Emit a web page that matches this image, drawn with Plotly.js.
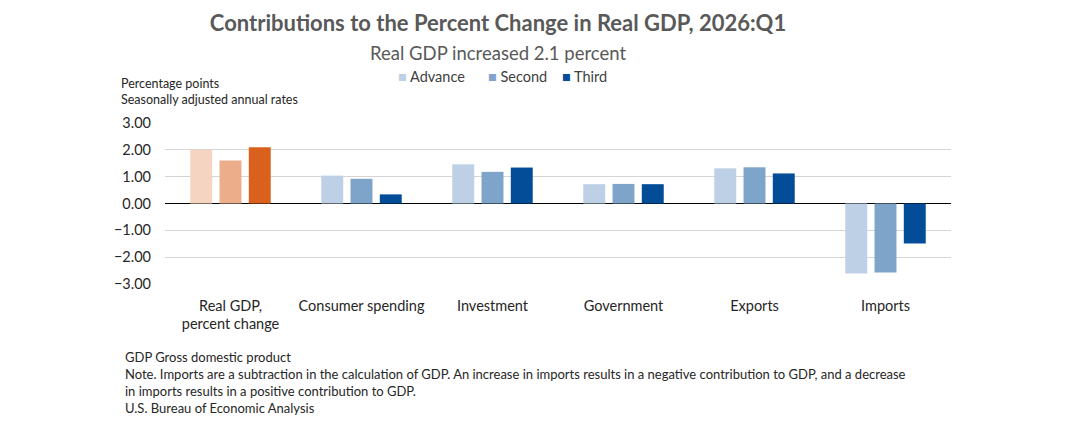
<!DOCTYPE html>
<html>
<head>
<meta charset="utf-8">
<script src="https://cdn.plot.ly/plotly-3.0.1.min.js"></script>
<style>
  html, body { margin: 0; padding: 0; background: #ffffff; }
  #chart { width: 1087px; height: 440px; }
</style>
</head>
<body>
<div id="chart"></div>
<script>
// Contributions to percent change in real GDP, by estimate vintage
const categories = ['Real GDP,<br>percent change', 'Consumer spending', 'Investment', 'Government', 'Exports', 'Imports'];
const seriesNames = ['Advance', 'Second', 'Third'];
const advance = [2.0, 1.04, 1.46, 0.72, 1.31, -2.61];
const second  = [1.6, 0.92, 1.18, 0.73, 1.35, -2.57];
const third   = [2.1, 0.34, 1.34, 0.72, 1.12, -1.49];

// Headline bars in orange shades, components in blue shades
const headlineColors = ['#F5D4C1', '#ECAE8A', '#D9601D'];
const componentColors = ['#BDD0E5', '#7FA4CA', '#034C97'];

const FONT = 'Lato, "Open Sans", "Noto Sans", sans-serif';
const W = 1087, H = 440;
const plotLeft = 165, plotRight = 951, plotTop = 122.5, plotBottom = 284;

// helpers to place decorations in paper units from pixel positions
const px2x = x => (x - plotLeft) / (plotRight - plotLeft);
const py2y = y => (plotBottom - y) / (plotBottom - plotTop);

const values = [advance, second, third];
const traces = values.map((vals, i) => ({
  type: 'bar',
  name: seriesNames[i],
  x: categories,
  y: vals,
  marker: {
    color: categories.map((c, j) => j === 0 ? headlineColors[i] : componentColors[i]),
    line: { width: 0 }
  },
  showlegend: false,
  hoverinfo: 'x+y+name'
}));

// legend drawn as coloured squares followed by the series name
const legendX = [396, 486, 560];
const annotations = seriesNames.map((n, i) => ({
  xref: 'paper', yref: 'paper',
  x: px2x(legendX[i]), y: py2y(76),
  xanchor: 'left', yanchor: 'middle',
  text: '<span style="color:' + componentColors[i] + '">■</span> ' + n,
  showarrow: false,
  font: { family: FONT, size: 14.5, color: '#404040' }
}));

annotations.push({
  xref: 'paper', yref: 'paper',
  x: px2x(498), y: py2y(52),
  xanchor: 'center', yanchor: 'middle',
  text: 'Real GDP increased 2.1 percent',
  showarrow: false,
  font: { family: FONT, size: 18.5, color: '#595959' }
});

annotations.push({
  xref: 'paper', yref: 'paper',
  x: px2x(119), y: py2y(73.5),
  xanchor: 'left', yanchor: 'top',
  align: 'left',
  text: 'Percentage points<br>Seasonally adjusted annual rates',
  showarrow: false,
  font: { family: FONT, size: 12.5, color: '#262626' }
});

annotations.push({
  xref: 'paper', yref: 'paper',
  x: px2x(123), y: py2y(347),
  xanchor: 'left', yanchor: 'top',
  align: 'left',
  text: 'GDP Gross domestic product<br>' +
        'Note. Imports are a subtraction in the calculation of GDP. An increase in imports results in a negative contribution to GDP, and a decrease<br>' +
        'in imports results in a positive contribution to GDP.<br>' +
        'U.S. Bureau of Economic Analysis',
  showarrow: false,
  font: { family: FONT, size: 13, color: '#262626' }
});

const layout = {
  width: W, height: H,
  paper_bgcolor: '#ffffff', plot_bgcolor: '#ffffff',
  margin: { l: plotLeft, r: W - plotRight, t: plotTop, b: H - plotBottom, pad: 0 },
  font: { family: FONT, color: '#404040' },
  title: {
    text: '<b>Contributions to the Percent Change in Real GDP, 2026:Q1</b>',
    x: 498 / W, xanchor: 'center', xref: 'container',
    y: 1 - 23 / H, yanchor: 'middle', yref: 'container',
    font: { family: FONT, size: 22, color: '#595959' }
  },
  barmode: 'group',
  bargap: 0.33,
  bargroupgap: 0.25,
  xaxis: {
    type: 'category',
    showgrid: false, showline: false, zeroline: false,
    ticks: '', ticklabelstandoff: 11,
    tickfont: { family: FONT, size: 14.5, color: '#262626' }
  },
  yaxis: {
    range: [-3, 3],
    dtick: 1, tick0: 0,
    tickformat: '.2f',
    showgrid: true, gridcolor: '#D5D5D5', gridwidth: 1,
    zeroline: true, zerolinecolor: '#000000', zerolinewidth: 1.5,
    showline: false, ticks: '', ticklabelstandoff: 13,
    tickfont: { family: FONT, size: 14.5, color: '#262626' }
  },
  annotations: annotations,
  showlegend: false
};

Plotly.newPlot('chart', traces, layout, { displayModeBar: false, staticPlot: true });
</script>
</body>
</html>
